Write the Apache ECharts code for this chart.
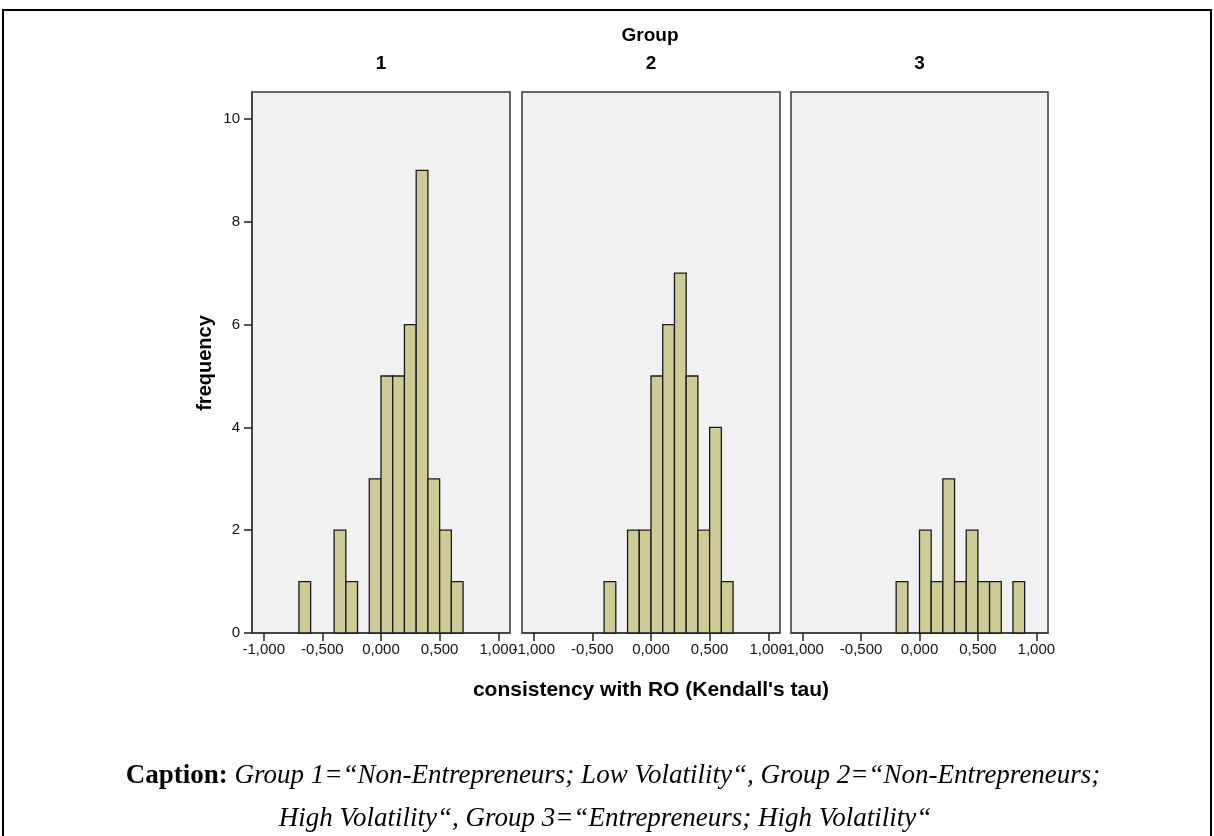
<!DOCTYPE html>
<html><head><meta charset="utf-8">
<script src="https://cdn.jsdelivr.net/npm/echarts@6/dist/echarts.min.js"></script>
<style>html,body{margin:0;padding:0;background:#fff}#c{width:1214px;height:836px}</style>
</head><body><div id="c"></div>
<script>
// ---- data ----
const groupNames = ['1', '2', '3'];
const binWidth = 0.1;
const group1Bins = [-0.7, -0.4, -0.3, -0.1, 0.0, 0.1, 0.2, 0.3, 0.4, 0.5, 0.6];
const group1Counts = [1, 2, 1, 3, 5, 5, 6, 9, 3, 2, 1];
const group2Bins = [-0.4, -0.2, -0.1, 0.0, 0.1, 0.2, 0.3, 0.4, 0.5, 0.6];
const group2Counts = [1, 2, 2, 5, 6, 7, 5, 2, 4, 1];
const group3Bins = [-0.2, 0.0, 0.1, 0.2, 0.3, 0.4, 0.5, 0.6, 0.8];
const group3Counts = [1, 2, 1, 3, 1, 2, 1, 1, 1];
const xTicks = [-1, -0.5, 0, 0.5, 1];
const yTicks = [0, 2, 4, 6, 8, 10];
const captionLead = 'Caption:';
const captionLine1 = ' Group 1=“Non-Entrepreneurs; Low Volatility“, Group 2=“Non-Entrepreneurs;';
const captionLine2 = 'High Volatility“, Group 3=“Entrepreneurs; High Volatility“';

const bins = [group1Bins, group2Bins, group3Bins];
const counts = [group1Counts, group2Counts, group3Counts];

const chart = echarts.init(document.getElementById('c'), null, {renderer: 'canvas'});
const gridLefts = [252, 522, 791];
const gridWidths = [258, 258, 257];
const sans = 'Liberation Sans, Arial, sans-serif';
const serif = 'Liberation Serif, Times New Roman, serif';

const grids = [], xAxes = [], yAxes = [], series = [];
for (let i = 0; i < 3; i++) {
  grids.push({left: gridLefts[i], width: gridWidths[i], top: 92, height: 541, show: true,
    backgroundColor: '#f0f1f0', borderColor: '#3a3a3a', borderWidth: 1.5});
  xAxes.push({type: 'value', gridIndex: i, min: -1.1, max: 1.1,
    splitLine: {show: false},
    axisLine: {show: true, onZero: false, lineStyle: {color: '#3a3a3a', width: 1.5}},
    axisTick: {show: true, length: 8, customValues: xTicks, lineStyle: {color: '#222', width: 1.5}},
    axisLabel: {customValues: xTicks, color: '#111', fontFamily: sans, fontSize: 15, margin: 9,
      formatter: v => v.toFixed(3).replace('.', ',')}});
  yAxes.push({type: 'value', gridIndex: i, min: 0, max: 10.525,
    splitLine: {show: false},
    axisLine: {show: i === 0, onZero: false, lineStyle: {color: '#3a3a3a', width: 1.5}},
    axisTick: {show: i === 0, length: 8, customValues: yTicks, lineStyle: {color: '#222', width: 1.5}},
    axisLabel: {show: i === 0, customValues: yTicks, color: '#111', fontFamily: sans, fontSize: 15, margin: 12}});
  series.push({type: 'custom', xAxisIndex: i, yAxisIndex: i,
    data: bins[i].map((b, k) => [b, b + binWidth, counts[i][k]]),
    encode: {x: [0, 1], y: 2},
    renderItem: (params, api) => {
      const p0 = api.coord([api.value(0), 0]);
      const p1 = api.coord([api.value(1), api.value(2)]);
      return {type: 'rect', shape: {x: p0[0], y: p1[1], width: p1[0] - p0[0], height: p0[1] - p1[1]},
        style: {fill: '#cfcb96', stroke: '#1a1a1a', lineWidth: 1.3}};
    }});
}

const graphic = [
  {type: 'rect', shape: {x: 3, y: 10, width: 1208, height: 840}, style: {fill: 'none', stroke: '#000', lineWidth: 2}},
  {type: 'text', x: 650, y: 36, style: {text: 'Group', font: 'bold 19px ' + sans, fill: '#000', align: 'center', verticalAlign: 'middle'}},
  {type: 'text', x: 205, y: 363, rotation: Math.PI / 2, style: {text: 'frequency', font: 'bold 20px ' + sans, fill: '#000', align: 'center', verticalAlign: 'middle'}},
  {type: 'text', x: 651, y: 690, style: {text: "consistency with RO (Kendall's tau)", font: 'bold 21px ' + sans, fill: '#000', align: 'center', verticalAlign: 'middle'}},
  {type: 'text', x: 613, y: 776, style: {
    text: '{b|' + captionLead + '}{i|' + captionLine1 + '}', align: 'center', verticalAlign: 'middle',
    rich: {b: {font: 'bold 27px ' + serif, fill: '#000'},
           i: {font: 'italic 27px ' + serif, fill: '#000'}}}},
  {type: 'text', x: 605, y: 819, style: {text: captionLine2, font: 'italic 27px ' + serif, fill: '#000', align: 'center', verticalAlign: 'middle'}}
];
for (let i = 0; i < 3; i++) {
  graphic.push({type: 'text', x: gridLefts[i] + gridWidths[i] / 2, y: 64,
    style: {text: groupNames[i], font: 'bold 19px ' + sans, fill: '#000', align: 'center', verticalAlign: 'middle'}});
}

chart.setOption({animation: false, backgroundColor: '#fff', grid: grids, xAxis: xAxes, yAxis: yAxes, series: series, graphic: graphic});
</script></body></html>
